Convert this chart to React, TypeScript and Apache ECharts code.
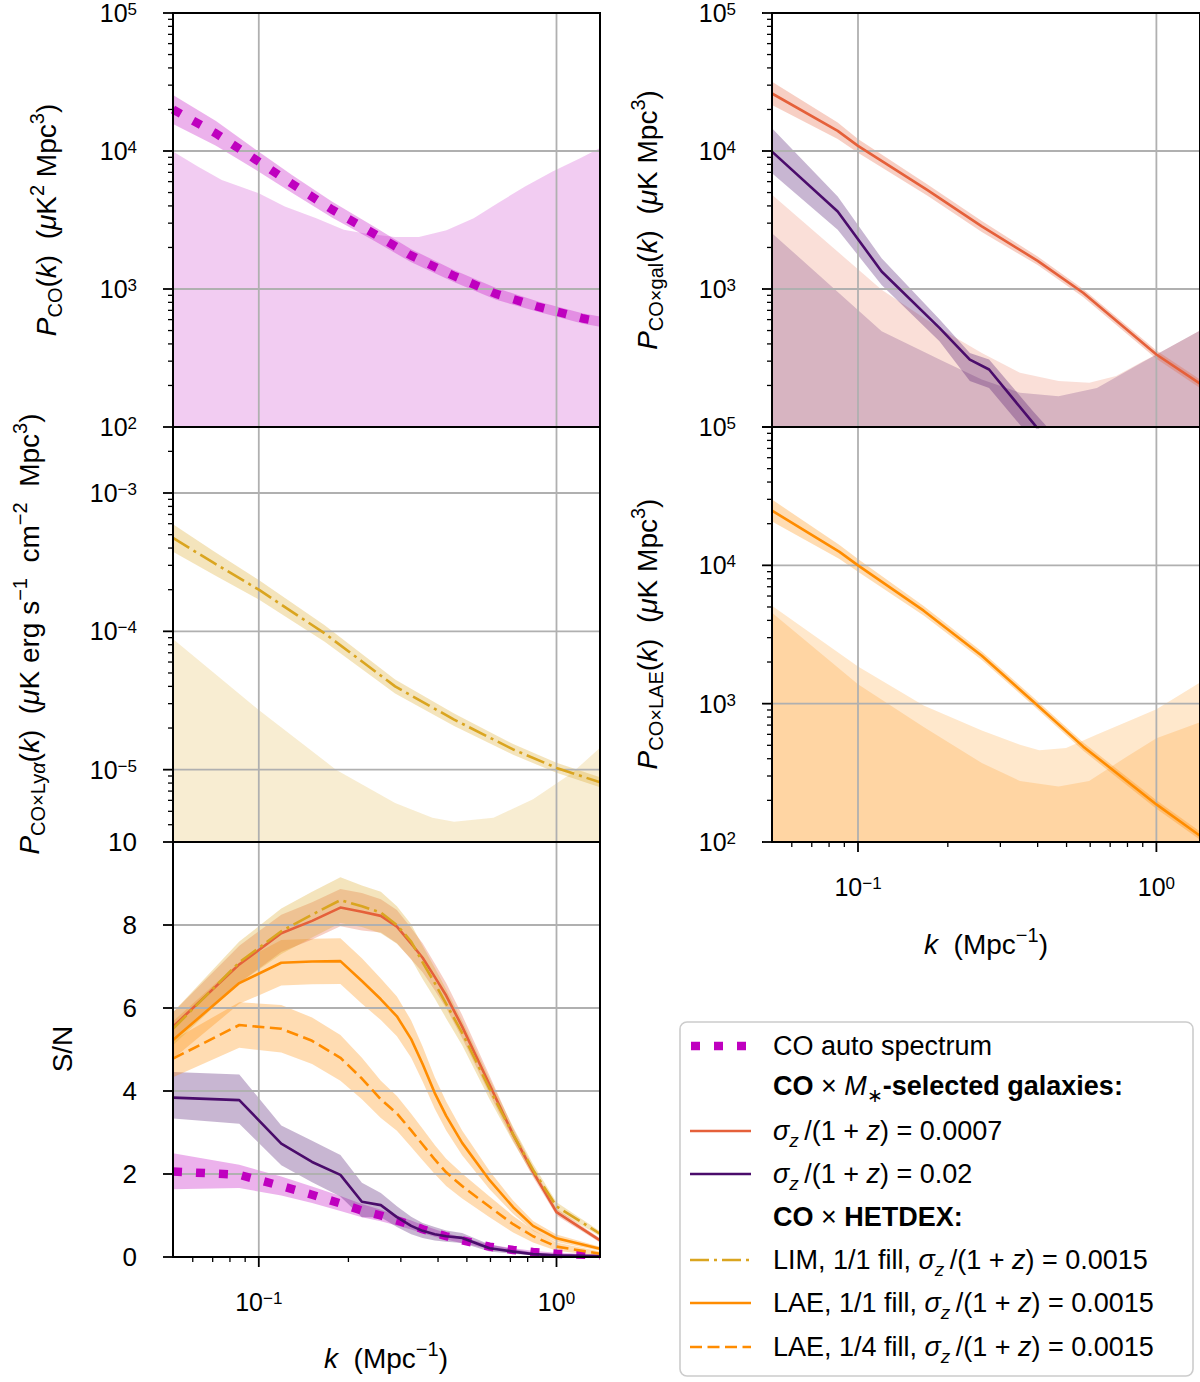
import React, { useEffect, useRef } from 'react';
import * as echarts from 'echarts';

const FONT = '"Liberation Sans", Arial, Helvetica, sans-serif';
const K_MIN = 0.0515;
const K_MAX = 1.4;

// ---------- tick values ----------
const X_MAJOR = [0.1, 1];
const X_MINOR = [0.06, 0.07, 0.08, 0.09, 0.2, 0.3, 0.4, 0.5, 0.6, 0.7, 0.8, 0.9];
const Y_MAJOR_P = [1e2, 1e3, 1e4, 1e5];
const Y_MINOR_P = [200, 300, 400, 500, 600, 700, 800, 900, 2000, 3000, 4000, 5000, 6000, 7000, 8000, 9000, 20000, 30000, 40000, 50000, 60000, 70000, 80000, 90000];
const Y_MAJOR_LYA = [1e-5, 1e-4, 1e-3];
const Y_MINOR_LYA = [4e-6, 5e-6, 6e-6, 7e-6, 8e-6, 9e-6, 2e-5, 3e-5, 4e-5, 5e-5, 6e-5, 7e-5, 8e-5, 9e-5, 2e-4, 3e-4, 4e-4, 5e-4, 6e-4, 7e-4, 8e-4, 9e-4, 2e-3];
const SN_MAJOR = [0, 2, 4, 6, 8, 10];

// ---------- panel 1: CO auto spectrum ----------
const coK = [0.0515, 0.0718, 0.0973, 0.13, 0.176, 0.239, 0.324, 0.45, 0.624, 0.872, 1.23, 1.4];
const coP = [2.0e4, 1.34e4, 8.7e3, 5.74e3, 3.77e3, 2.58e3, 1.75e3, 1.25e3, 925, 741, 611, 580];
const coHi = [2.55e4, 1.65e4, 1.03e4, 6.65e3, 4.3e3, 2.91e3, 1.95e3, 1.38e3, 1.02e3, 808, 665, 632];
const coLo = [1.57e4, 1.09e4, 7.35e3, 4.95e3, 3.3e3, 2.29e3, 1.57e3, 1.13e3, 838, 680, 561, 532];
const coNoiseK = [0.0515, 0.0626, 0.0751, 0.1, 0.1223, 0.156, 0.193, 0.225, 0.287, 0.345, 0.427, 0.527, 0.634, 0.784, 0.97, 1.2, 1.4];
const coNoiseP = [9.9e3, 7.7e3, 6.17e3, 4.94e3, 3.96e3, 3.26e3, 2.69e3, 2.54e3, 2.38e3, 2.38e3, 2.66e3, 3.26e3, 4.19e3, 5.52e3, 7.1e3, 8.85e3, 1.05e4];

// ---------- panel 2: CO x Lya (LIM) ----------
const lyaK = [0.0515, 0.0706, 0.1, 0.166, 0.287, 0.453, 0.715, 1.0, 1.4];
const lyaP = [4.73e-4, 3.12e-4, 2.0e-4, 9.7e-5, 4.0e-5, 2.3e-5, 1.4e-5, 1.03e-5, 8.1e-6];
const lyaHi = [5.95e-4, 3.79e-4, 2.35e-4, 1.11e-4, 4.49e-5, 2.55e-5, 1.53e-5, 1.12e-5, 8.8e-6];
const lyaLo = [3.76e-4, 2.57e-4, 1.7e-4, 8.45e-5, 3.56e-5, 2.07e-5, 1.28e-5, 9.5e-6, 7.47e-6];
const lyaNoiseK = [0.0515, 0.1, 0.1817, 0.287, 0.383, 0.453, 0.614, 0.834, 1.13, 1.4];
const lyaNoiseP = [8.8e-5, 2.7e-5, 1.0e-5, 5.75e-6, 4.5e-6, 4.2e-6, 4.5e-6, 6.1e-6, 9.5e-6, 1.44e-5];

// ---------- panel 3: CO x M*-selected galaxies ----------
const galRedK = [0.0515, 0.0855, 0.1, 0.171, 0.26, 0.4, 0.568, 1.0, 1.4];
const galRedP = [2.61e4, 1.4e4, 1.09e4, 5.2e3, 2.84e3, 1.6e3, 940, 335, 206];
const galRedHi = [3.17e4, 1.61e4, 1.22e4, 5.72e3, 3.11e3, 1.72e3, 1.0e3, 359, 221];
const galRedLo = [2.15e4, 1.22e4, 9.7e3, 4.73e3, 2.59e3, 1.49e3, 876, 312, 192];
const galPurK = [0.0515, 0.0855, 0.12, 0.1875, 0.237, 0.275, 0.386, 0.5];
const galPurP = [9.9e3, 3.64e3, 1.34e3, 523, 308, 261, 107, 54];
const galPurHi = [1.46e4, 4.68e3, 1.67e3, 603, 344, 308, 130, 70];
const galPurLo = [6.9e3, 2.69e3, 1.07e3, 419, 215, 192, 80, 38];
const galRedNoiseK = [0.0515, 0.12, 0.1875, 0.26, 0.349, 0.47, 0.596, 0.733, 0.902, 1.0, 1.4];
const galRedNoiseP = [4.81e3, 989, 520, 344, 247, 215, 209, 234, 300, 335, 500];
const galPurNoiseK = [0.0515, 0.12, 0.193, 0.26, 0.349, 0.47, 0.632, 0.85, 1.0, 1.4];
const galPurNoiseP = [2.54e3, 494, 300, 221, 177, 167, 192, 276, 335, 500];

// ---------- panel 4: CO x LAE ----------
const laeK = [0.0515, 0.0867, 0.1, 0.166, 0.26, 0.394, 0.569, 1.0, 1.4];
const laeP = [2.49e4, 1.25e4, 1.0e4, 4.7e3, 2.22e3, 1.0e3, 489, 187, 111];
const laeHi = [2.99e4, 1.4e4, 1.11e4, 5.09e3, 2.38e3, 1.07e3, 524, 200, 119];
const laeLo = [2.07e4, 1.11e4, 9.0e3, 4.34e3, 2.07e3, 933, 456, 174, 104];
const laeNoiseQK = [0.0515, 0.1, 0.166, 0.26, 0.349, 0.405, 0.498, 0.632, 0.85, 1.0, 1.4];
const laeNoiseQP = [5.1e3, 1.86e3, 970, 640, 504, 460, 479, 598, 783, 910, 1.42e3];
const laeNoiseFK = [0.0515, 0.1, 0.166, 0.26, 0.349, 0.47, 0.595, 0.8, 1.0, 1.4];
const laeNoiseFP = [4.55e3, 1.38e3, 677, 372, 276, 252, 276, 417, 562, 733];

// ---------- panel 5: S/N ----------
const snK = [0.0515, 0.086, 0.119, 0.151, 0.188, 0.222, 0.257, 0.291, 0.325, 0.355, 0.39, 0.426, 0.482, 0.596, 0.715, 0.834, 1.0, 1.4];
const snAuto = [2.06, 1.98, 1.71, 1.5, 1.29, 1.12, 1.0, 0.88, 0.77, 0.67, 0.58, 0.5, 0.4, 0.25, 0.17, 0.12, 0.08, 0.04];
const snAutoHi = [2.5, 2.22, 1.94, 1.7, 1.47, 1.28, 1.14, 1.0, 0.88, 0.77, 0.67, 0.58, 0.47, 0.3, 0.21, 0.15, 0.1, 0.06];
const snAutoLo = [1.63, 1.66, 1.48, 1.3, 1.11, 0.96, 0.86, 0.76, 0.66, 0.57, 0.49, 0.42, 0.33, 0.2, 0.13, 0.09, 0.06, 0.02];
const snRed = [5.55, 7.05, 7.8, 8.1, 8.42, 8.32, 8.22, 7.96, 7.55, 7.21, 6.75, 6.3, 5.55, 4.15, 2.95, 2.05, 1.08, 0.4];
const snRedHi = [5.9, 7.5, 8.25, 8.55, 8.87, 8.77, 8.62, 8.36, 7.93, 7.56, 7.07, 6.6, 5.83, 4.37, 3.1, 2.17, 1.16, 0.45];
const snRedLo = [5.2, 6.6, 7.35, 7.65, 7.97, 7.87, 7.82, 7.56, 7.17, 6.86, 6.43, 6.0, 5.27, 3.93, 2.8, 1.93, 1.0, 0.35];
const snPur = [3.84, 3.78, 2.73, 2.29, 1.98, 1.33, 1.25, 0.96, 0.75, 0.63, 0.55, 0.5, 0.46, 0.21, 0.13, 0.07, 0.04, 0.02];
const snPurHi = [4.46, 4.4, 3.17, 2.8, 2.46, 1.79, 1.54, 1.22, 0.97, 0.82, 0.72, 0.64, 0.58, 0.3, 0.19, 0.11, 0.06, 0.03];
const snPurLo = [3.34, 3.21, 2.21, 1.8, 1.46, 0.96, 0.96, 0.72, 0.55, 0.46, 0.4, 0.37, 0.34, 0.13, 0.08, 0.04, 0.02, 0.01];
const snLim = [5.5, 7.1, 7.85, 8.25, 8.6, 8.45, 8.3, 8.0, 7.6, 7.1, 6.6, 6.1, 5.4, 4.05, 2.95, 2.1, 1.22, 0.56];
const snLimHi = [5.9, 7.6, 8.4, 8.8, 9.15, 8.95, 8.8, 8.45, 8.02, 7.5, 6.97, 6.45, 5.7, 4.3, 3.13, 2.24, 1.32, 0.62];
const snLimLo = [5.1, 6.6, 7.3, 7.7, 8.05, 7.95, 7.8, 7.55, 7.18, 6.7, 6.23, 5.75, 5.1, 3.8, 2.77, 1.96, 1.12, 0.5];
const snLae = [5.23, 6.6, 7.09, 7.12, 7.13, 6.65, 6.21, 5.8, 5.25, 4.65, 3.95, 3.4, 2.75, 1.85, 1.2, 0.75, 0.45, 0.2];
const snLaeHi = [5.68, 7.1, 7.64, 7.67, 7.68, 7.2, 6.71, 6.28, 5.7, 5.07, 4.33, 3.75, 3.05, 2.07, 1.36, 0.87, 0.54, 0.25];
const snLaeLo = [4.78, 6.1, 6.54, 6.57, 6.58, 6.1, 5.71, 5.32, 4.8, 4.23, 3.57, 3.05, 2.45, 1.63, 1.04, 0.63, 0.36, 0.15];
const snLaeQ = [4.78, 5.59, 5.5, 5.21, 4.8, 4.3, 3.8, 3.46, 3.05, 2.71, 2.35, 2.04, 1.71, 1.21, 0.79, 0.5, 0.25, 0.08];
const snLaeQHi = [5.23, 6.14, 6.07, 5.77, 5.35, 4.8, 4.25, 3.88, 3.45, 3.09, 2.7, 2.37, 2.01, 1.46, 0.99, 0.65, 0.35, 0.13];
const snLaeQLo = [4.33, 5.04, 4.93, 4.65, 4.25, 3.8, 3.35, 3.04, 2.65, 2.33, 2.0, 1.71, 1.41, 0.96, 0.59, 0.35, 0.15, 0.03];

// ---------- colours ----------
const MAGENTA = '#bf00bf';
const RED = '#e5603a';
const PURPLE = '#4a0c6b';
const GOLD = '#daa520';
const ORANGE = '#ff8c00';

const rgba = (hex: string, a: number) => {
  const n = parseInt(hex.slice(1), 16);
  return `rgba(${n >> 16},${(n >> 8) & 255},${n & 255},${a})`;
};

const DOT = [9, 14];
const DASHDOT = [19, 5, 3, 5];
const DASHED = [12, 5.5];

function lineS(gi: number, ks: number[], vs: number[], color: string, width: number, type: any) {
  return {
    type: 'line', xAxisIndex: gi, yAxisIndex: gi, silent: true, z: 4,
    data: ks.map((k, i) => [k, vs[i]]),
    showSymbol: false, symbol: 'none', smooth: false, clip: true,
    lineStyle: { color, width, type, cap: 'butt', join: 'round' },
    emphasis: { disabled: true },
  };
}

function bandS(gi: number, ks: number[], lo: number[], hi: number[], fill: string) {
  return {
    type: 'custom', coordinateSystem: 'cartesian2d', xAxisIndex: gi, yAxisIndex: gi,
    silent: true, z: 2, clip: true,
    data: ks.map((k, i) => [k, lo[i], hi[i]]),
    encode: { x: 0, y: [1, 2] },
    renderItem: (params: any, api: any) => {
      if (params.dataIndexInside !== 0) return null;
      const n = params.dataInsideLength;
      const top: number[][] = [];
      const bot: number[][] = [];
      for (let i = 0; i < n; i++) {
        const x = api.value(0, i);
        top.push(api.coord([x, api.value(2, i)]));
        bot.push(api.coord([x, api.value(1, i)]));
      }
      return { type: 'polygon', shape: { points: top.concat(bot.reverse()) }, style: { fill } };
    },
  };
}

function noiseS(gi: number, ks: number[], vs: number[], fill: string) {
  return {
    type: 'custom', coordinateSystem: 'cartesian2d', xAxisIndex: gi, yAxisIndex: gi,
    silent: true, z: 2, clip: true,
    data: ks.map((k, i) => [k, vs[i]]),
    encode: { x: 0, y: 1 },
    renderItem: (params: any, api: any) => {
      if (params.dataIndexInside !== 0) return null;
      const n = params.dataInsideLength;
      const cs = params.coordSys;
      const bottom = cs.y + cs.height;
      const pts: number[][] = [];
      for (let i = 0; i < n; i++) pts.push(api.coord([api.value(0, i), api.value(1, i)]));
      const poly = [[pts[0][0], bottom], ...pts, [pts[n - 1][0], bottom]];
      return { type: 'polygon', shape: { points: poly }, style: { fill } };
    },
  };
}

type Deco = { yRef: number; yMajor: number[]; yMinor: number[]; yGrid: number[]; xTicks: boolean };

function seg(x1: number, y1: number, x2: number, y2: number, stroke: string, lineWidth: number) {
  return { type: 'line', shape: { x1, y1, x2, y2 }, style: { stroke, lineWidth, lineCap: 'butt' } };
}

function decoS(gi: number, cfg: Deco, kind: 'grid' | 'frame') {
  return {
    type: 'custom', coordinateSystem: 'cartesian2d', xAxisIndex: gi, yAxisIndex: gi,
    silent: true, z: kind === 'grid' ? 3 : 5, clip: false,
    data: [[0.1, cfg.yRef]],
    encode: { x: 0, y: 1 },
    renderItem: (params: any, api: any) => {
      const cs = params.coordSys;
      const L = cs.x, T = cs.y, R = cs.x + cs.width, B = cs.y + cs.height;
      const ypx = (v: number) => api.coord([0.1, v])[1];
      const xpx = (v: number) => api.coord([v, cfg.yRef])[0];
      const ch: any[] = [];
      if (kind === 'grid') {
        X_MAJOR.forEach((v) => { const x = xpx(v); ch.push(seg(x, T, x, B, '#b0b0b0', 1.8)); });
        cfg.yGrid.forEach((v) => { const y = ypx(v); ch.push(seg(L, y, R, y, '#b0b0b0', 1.8)); });
      } else {
        cfg.yMajor.forEach((v) => { const y = ypx(v); ch.push(seg(L - 10, y, L, y, '#000', 1.8)); });
        cfg.yMinor.forEach((v) => { const y = ypx(v); ch.push(seg(L - 5, y, L, y, '#000', 1.3)); });
        if (cfg.xTicks) {
          X_MAJOR.forEach((v) => { const x = xpx(v); ch.push(seg(x, B, x, B + 10, '#000', 1.8)); });
          X_MINOR.forEach((v) => { const x = xpx(v); ch.push(seg(x, B, x, B + 5, '#000', 1.3)); });
        }
        ch.push({ type: 'rect', shape: { x: L, y: T, width: cs.width, height: cs.height }, style: { fill: 'none', stroke: '#000', lineWidth: 2 } });
      }
      return { type: 'group', children: ch };
    },
  };
}

const tickRich = {
  b: { fontFamily: FONT, fontSize: 25, lineHeight: 24, color: '#000' },
  s: { fontFamily: FONT, fontSize: 17, lineHeight: 14, verticalAlign: 'top', color: '#000', padding: [0, 0, 4, 0] },
};

function powLabel(v: number) {
  const e = Math.log10(v);
  const r = Math.round(e);
  if (Math.abs(e - r) > 1e-6) return '';
  const sup = r < 0 ? '\u2212' + -r : String(r);
  return `{b|10}{s|${sup}}`;
}

const mkRich = (fs: number, ss: number) => ({
  n: { fontFamily: FONT, fontSize: fs, lineHeight: fs + 10, color: '#000' },
  i: { fontFamily: FONT, fontSize: fs, lineHeight: fs + 10, fontStyle: 'italic', color: '#000' },
  b: { fontFamily: FONT, fontSize: fs, lineHeight: fs + 10, fontWeight: 'bold', color: '#000' },
  sup: { fontFamily: FONT, fontSize: ss, lineHeight: ss + 3, verticalAlign: 'top', color: '#000' },
  sub: { fontFamily: FONT, fontSize: ss, lineHeight: ss + 6, verticalAlign: 'bottom', color: '#000' },
  isub: { fontFamily: FONT, fontSize: ss, lineHeight: ss + 6, verticalAlign: 'bottom', fontStyle: 'italic', color: '#000' },
});
const titleRich = mkRich(28, 20);
const legendRich = mkRich(27, 19);

function buildOption() {
  const grids = [
    { left: 173, top: 13, width: 427, height: 414 },
    { left: 173, top: 427, width: 427, height: 415 },
    { left: 173, top: 842, width: 427, height: 415 },
    { left: 772, top: 13, width: 428, height: 414 },
    { left: 772, top: 427, width: 428, height: 415 },
  ].map((g) => ({ ...g, containLabel: false, outerBoundsMode: 'none', show: false }));

  const xAxes = grids.map((_, i) => ({
    type: 'log', logBase: 10, gridIndex: i, min: K_MIN, max: K_MAX,
    axisLine: { show: false }, axisTick: { show: false }, splitLine: { show: false }, minorTick: { show: false },
    axisLabel: {
      show: i === 2 || i === 4, formatter: powLabel, rich: tickRich, margin: 33,
      showMinLabel: true, showMaxLabel: true,
    },
  }));

  const logY = (i: number, min: number, max: number, showMin: boolean) => ({
    type: 'log', logBase: 10, gridIndex: i, min, max,
    axisLine: { show: false }, axisTick: { show: false }, splitLine: { show: false },
    axisLabel: { formatter: powLabel, rich: tickRich, margin: 36, showMinLabel: showMin, showMaxLabel: true },
  });

  const yAxes = [
    logY(0, 100, 1e5, true),
    logY(1, 3e-6, 3e-3, false),
    {
      type: 'value', gridIndex: 2, min: 0, max: 10, interval: 2,
      axisLine: { show: false }, axisTick: { show: false }, splitLine: { show: false },
      axisLabel: { fontFamily: FONT, fontSize: 26, color: '#000', margin: 36, showMinLabel: true, showMaxLabel: true },
    },
    logY(3, 100, 1e5, false),
    logY(4, 100, 1e5, true),
  ];

  const decos: Deco[] = [
    { yRef: 1e3, yMajor: Y_MAJOR_P, yMinor: Y_MINOR_P, yGrid: [1e3, 1e4], xTicks: false },
    { yRef: 1e-4, yMajor: Y_MAJOR_LYA, yMinor: Y_MINOR_LYA, yGrid: Y_MAJOR_LYA, xTicks: false },
    { yRef: 4, yMajor: SN_MAJOR, yMinor: [], yGrid: [2, 4, 6, 8], xTicks: true },
    { yRef: 1e3, yMajor: Y_MAJOR_P, yMinor: Y_MINOR_P, yGrid: [1e3, 1e4], xTicks: false },
    { yRef: 1e3, yMajor: Y_MAJOR_P, yMinor: Y_MINOR_P, yGrid: [1e3, 1e4], xTicks: true },
  ];

  const series: any[] = [
    // panel 0
    noiseS(0, coNoiseK, coNoiseP, rgba(MAGENTA, 0.2)),
    bandS(0, coK, coLo, coHi, rgba(MAGENTA, 0.3)),
    lineS(0, coK, coP, MAGENTA, 8.5, DOT),
    // panel 1
    noiseS(1, lyaNoiseK, lyaNoiseP, rgba(GOLD, 0.2)),
    bandS(1, lyaK, lyaLo, lyaHi, rgba(GOLD, 0.3)),
    lineS(1, lyaK, lyaP, GOLD, 2.6, DASHDOT),
    // panel 3 (galaxies)
    noiseS(3, galRedNoiseK, galRedNoiseP, rgba(RED, 0.2)),
    noiseS(3, galPurNoiseK, galPurNoiseP, rgba(PURPLE, 0.2)),
    bandS(3, galRedK, galRedLo, galRedHi, rgba(RED, 0.3)),
    bandS(3, galPurK, galPurLo, galPurHi, rgba(PURPLE, 0.3)),
    lineS(3, galRedK, galRedP, RED, 2.6, 'solid'),
    lineS(3, galPurK, galPurP, PURPLE, 2.6, 'solid'),
    // panel 4 (LAE)
    noiseS(4, laeNoiseQK, laeNoiseQP, rgba(ORANGE, 0.2)),
    noiseS(4, laeNoiseFK, laeNoiseFP, rgba(ORANGE, 0.2)),
    bandS(4, laeK, laeLo, laeHi, rgba(ORANGE, 0.3)),
    lineS(4, laeK, laeP, ORANGE, 2.6, 'solid'),
    // panel 2 (S/N)
    bandS(2, snK, snAutoLo, snAutoHi, rgba(MAGENTA, 0.3)),
    bandS(2, snK, snPurLo, snPurHi, rgba(PURPLE, 0.3)),
    bandS(2, snK, snLaeQLo, snLaeQHi, rgba(ORANGE, 0.3)),
    bandS(2, snK, snLaeLo, snLaeHi, rgba(ORANGE, 0.3)),
    bandS(2, snK, snRedLo, snRedHi, rgba(RED, 0.3)),
    bandS(2, snK, snLimLo, snLimHi, rgba(GOLD, 0.3)),
    lineS(2, snK, snAuto, MAGENTA, 8.5, DOT),
    lineS(2, snK, snPur, PURPLE, 2.6, 'solid'),
    lineS(2, snK, snLaeQ, ORANGE, 2.6, DASHED),
    lineS(2, snK, snLae, ORANGE, 2.6, 'solid'),
    lineS(2, snK, snRed, RED, 2.6, 'solid'),
    lineS(2, snK, snLim, GOLD, 2.6, DASHDOT),
  ];
  decos.forEach((d, i) => {
    series.push(decoS(i, d, 'grid'));
    series.push(decoS(i, d, 'frame'));
  });

  const title = (x: number, y: number, text: string, rotate: boolean) => ({
    type: 'text', x, y, rotation: rotate ? Math.PI / 2 : 0, z: 50, silent: true,
    style: { text, rich: titleRich, align: 'center', verticalAlign: 'middle' },
  });

  const sigma = (v: string) => `{i|σ}{isub|z}{n|\u2009/(1 + }{i|z}{n|) = ${v}}`;

  const legendRows = [
    { y: 1046, kind: 'dot', color: MAGENTA, text: '{n|CO auto spectrum}' },
    { y: 1086, kind: 'none', color: '', text: '{b|CO}{n| × }{i|M}{sub|∗}{b|-selected galaxies:}' },
    { y: 1131, kind: 'solid', color: RED, text: sigma('0.0007') },
    { y: 1174, kind: 'solid', color: PURPLE, text: sigma('0.02') },
    { y: 1217, kind: 'none', color: '', text: '{b|CO}{n| × }{b|HETDEX:}' },
    { y: 1260, kind: 'dashdot', color: GOLD, text: '{n|LIM, 1/1 fill, }' + sigma('0.0015') },
    { y: 1303, kind: 'solid', color: ORANGE, text: '{n|LAE, 1/1 fill, }' + sigma('0.0015') },
    { y: 1347, kind: 'dashed', color: ORANGE, text: '{n|LAE, 1/4 fill, }' + sigma('0.0015') },
  ];

  const legendEls: any[] = [
    {
      type: 'rect', z: 100, silent: true,
      shape: { x: 680, y: 1022, width: 513, height: 354, r: 7 },
      style: { fill: 'rgba(255,255,255,0.8)', stroke: '#cccccc', lineWidth: 1.6 },
    },
  ];
  legendRows.forEach((r) => {
    if (r.kind !== 'none') {
      const dash = r.kind === 'dot' ? DOT : r.kind === 'dashdot' ? DASHDOT : r.kind === 'dashed' ? DASHED : null;
      legendEls.push({
        type: 'line', z: 101, silent: true,
        shape: { x1: r.kind === 'dot' ? 691 : 690, y1: r.y, x2: 751, y2: r.y },
        style: { stroke: r.color, lineWidth: r.kind === 'dot' ? 8.5 : 2.6, lineDash: dash, lineCap: 'butt' },
      });
    }
    legendEls.push({
      type: 'text', x: 773, y: r.y, z: 101, silent: true,
      style: { text: r.text, rich: legendRich, align: 'left', verticalAlign: 'middle' },
    });
  });

  const graphic = [
    title(46, 220, '{i|P}{sub|CO}{n|(}{i|k}{n|)  (}{i|μ}{n|K}{sup|2}{n| Mpc}{sup|3}{n|)}', true),
    title(29, 634, '{i|P}{sub|CO×Ly}{isub|α}{n|(}{i|k}{n|)  (}{i|μ}{n|K erg s}{sup|−1}{n|  cm}{sup|−2}{n|  Mpc}{sup|3}{n|)}', true),
    title(62, 1049, '{n|S/N}', true),
    title(647, 220, '{i|P}{sub|CO×gal}{n|(}{i|k}{n|)  (}{i|μ}{n|K Mpc}{sup|3}{n|)}', true),
    title(647, 634, '{i|P}{sub|CO×LAE}{n|(}{i|k}{n|)  (}{i|μ}{n|K Mpc}{sup|3}{n|)}', true),
    title(386, 1358, '{i|k}{n|  (Mpc}{sup|−1}{n|)}', false),
    title(986, 944, '{i|k}{n|  (Mpc}{sup|−1}{n|)}', false),
    ...legendEls,
  ];

  return {
    animation: false,
    backgroundColor: '#ffffff',
    grid: grids,
    xAxis: xAxes,
    yAxis: yAxes,
    series,
    graphic,
  };
}

export default function App() {
  const ref = useRef<HTMLDivElement>(null);
  useEffect(() => {
    document.body.style.margin = '0';
    const chart = echarts.init(ref.current as HTMLDivElement, null, { renderer: 'svg' });
    chart.setOption(buildOption() as any);
    return () => chart.dispose();
  }, []);
  return <div ref={ref} style={{ width: 1200, height: 1382 }} />;
}
